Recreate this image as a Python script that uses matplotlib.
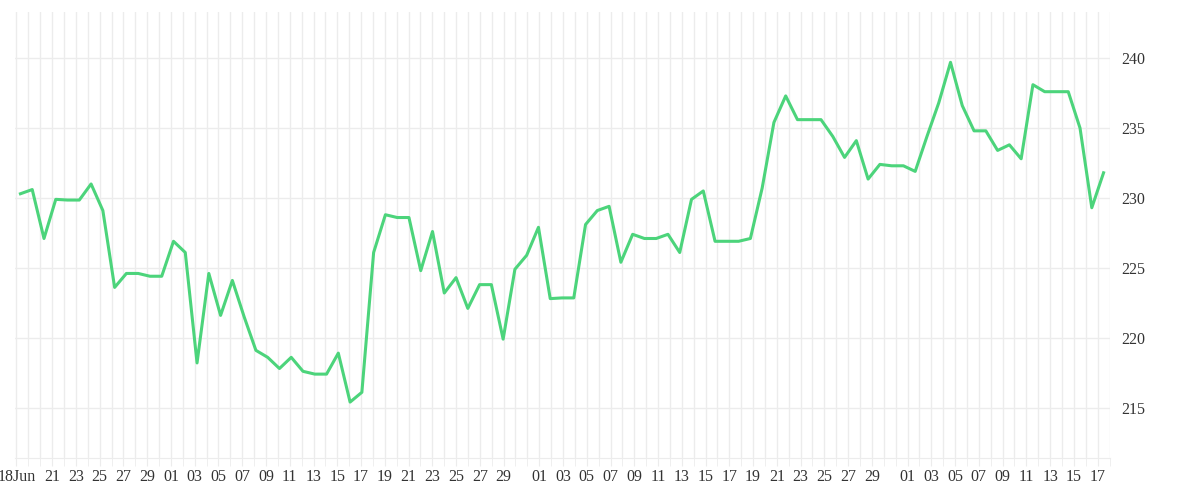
import numpy as np
import pandas as pd
import matplotlib
matplotlib.use("Agg")
import matplotlib.pyplot as plt
import matplotlib.dates as mdates

# valores (uno por día, 18 Jun -> 17 Sep)
values = [
    230.3, 230.6, 227.1, 229.9, 229.85, 229.85, 231.0, 229.1, 223.6, 224.6,
    224.6, 224.4, 224.4, 226.9, 226.1, 218.2, 224.6, 221.6, 224.1, 221.5,
    219.1, 218.6, 217.8, 218.6, 217.6, 217.4, 217.4, 218.9, 215.4, 216.1,
    226.1, 228.8, 228.6, 228.6, 224.8, 227.6, 223.2, 224.3, 222.1, 223.8,
    223.8, 219.9, 224.9, 225.9, 227.9, 222.8, 222.85, 222.85, 228.1, 229.1,
    229.4, 225.4, 227.4, 227.1, 227.1, 227.4, 226.1, 229.9, 230.5, 226.9,
    226.9, 226.9, 227.1, 230.7, 235.4, 237.3, 235.6, 235.6, 235.6, 234.4,
    232.9, 234.1, 231.35, 232.4, 232.3, 232.3, 231.9, 234.4, 236.8, 239.7,
    236.6, 234.8, 234.8, 233.4, 233.8, 232.8, 238.1, 237.6, 237.6, 237.6,
    235.0, 229.3, 231.8,
]
dates = pd.date_range("2023-06-18 08:00", "2023-09-17 12:00", periods=len(values))
y_ticks = [215, 220, 225, 230, 235, 240]

GREEN = "#4cd47b"
GRID = "#ececec"

fig = plt.figure(figsize=(12, 5), dpi=100, facecolor="white")
ax = fig.add_axes([0.0125, 0.084, 0.9125, 0.892])

ax.plot(dates, values, color=GREEN, linewidth=2.2, zorder=3)

ax.set_xlim(pd.Timestamp("2023-06-17 21:00"), pd.Timestamp("2023-09-18 01:00"))
ax.set_ylim(211.4, 243.3)

# ticks x: 18Jun y luego días impares hasta 29
start = pd.Timestamp("2023-06-18")
ticks = [start] + [d for d in pd.date_range("2023-06-21", "2023-09-17")
                   if d.day % 2 == 1 and d.day <= 29]
labels = ["18Jun"] + [d.strftime("%d") for d in ticks[1:]]
ax.set_xticks(ticks)
ax.set_xticklabels(labels)
ax.xaxis.set_minor_locator(mdates.DayLocator())

ax.yaxis.tick_right()
ax.set_yticks(y_ticks)

ax.grid(True, which="both", axis="x", color=GRID, linewidth=1)
ax.grid(True, axis="y", color=GRID, linewidth=1)
ax.set_axisbelow(True)

for side in ["top", "left", "right"]:
    ax.spines[side].set_visible(False)
ax.spines["bottom"].set_color(GRID)

ax.tick_params(axis="x", which="both", length=6, color=GRID,
               labelsize=11.5, labelcolor="#333333", pad=2)
ax.tick_params(axis="y", length=0, labelsize=11.5, labelcolor="#333333", pad=8)
for lab in ax.get_xticklabels() + ax.get_yticklabels():
    lab.set_fontfamily("Liberation Serif")

plt.savefig("out.png", dpi=100, facecolor="white")
